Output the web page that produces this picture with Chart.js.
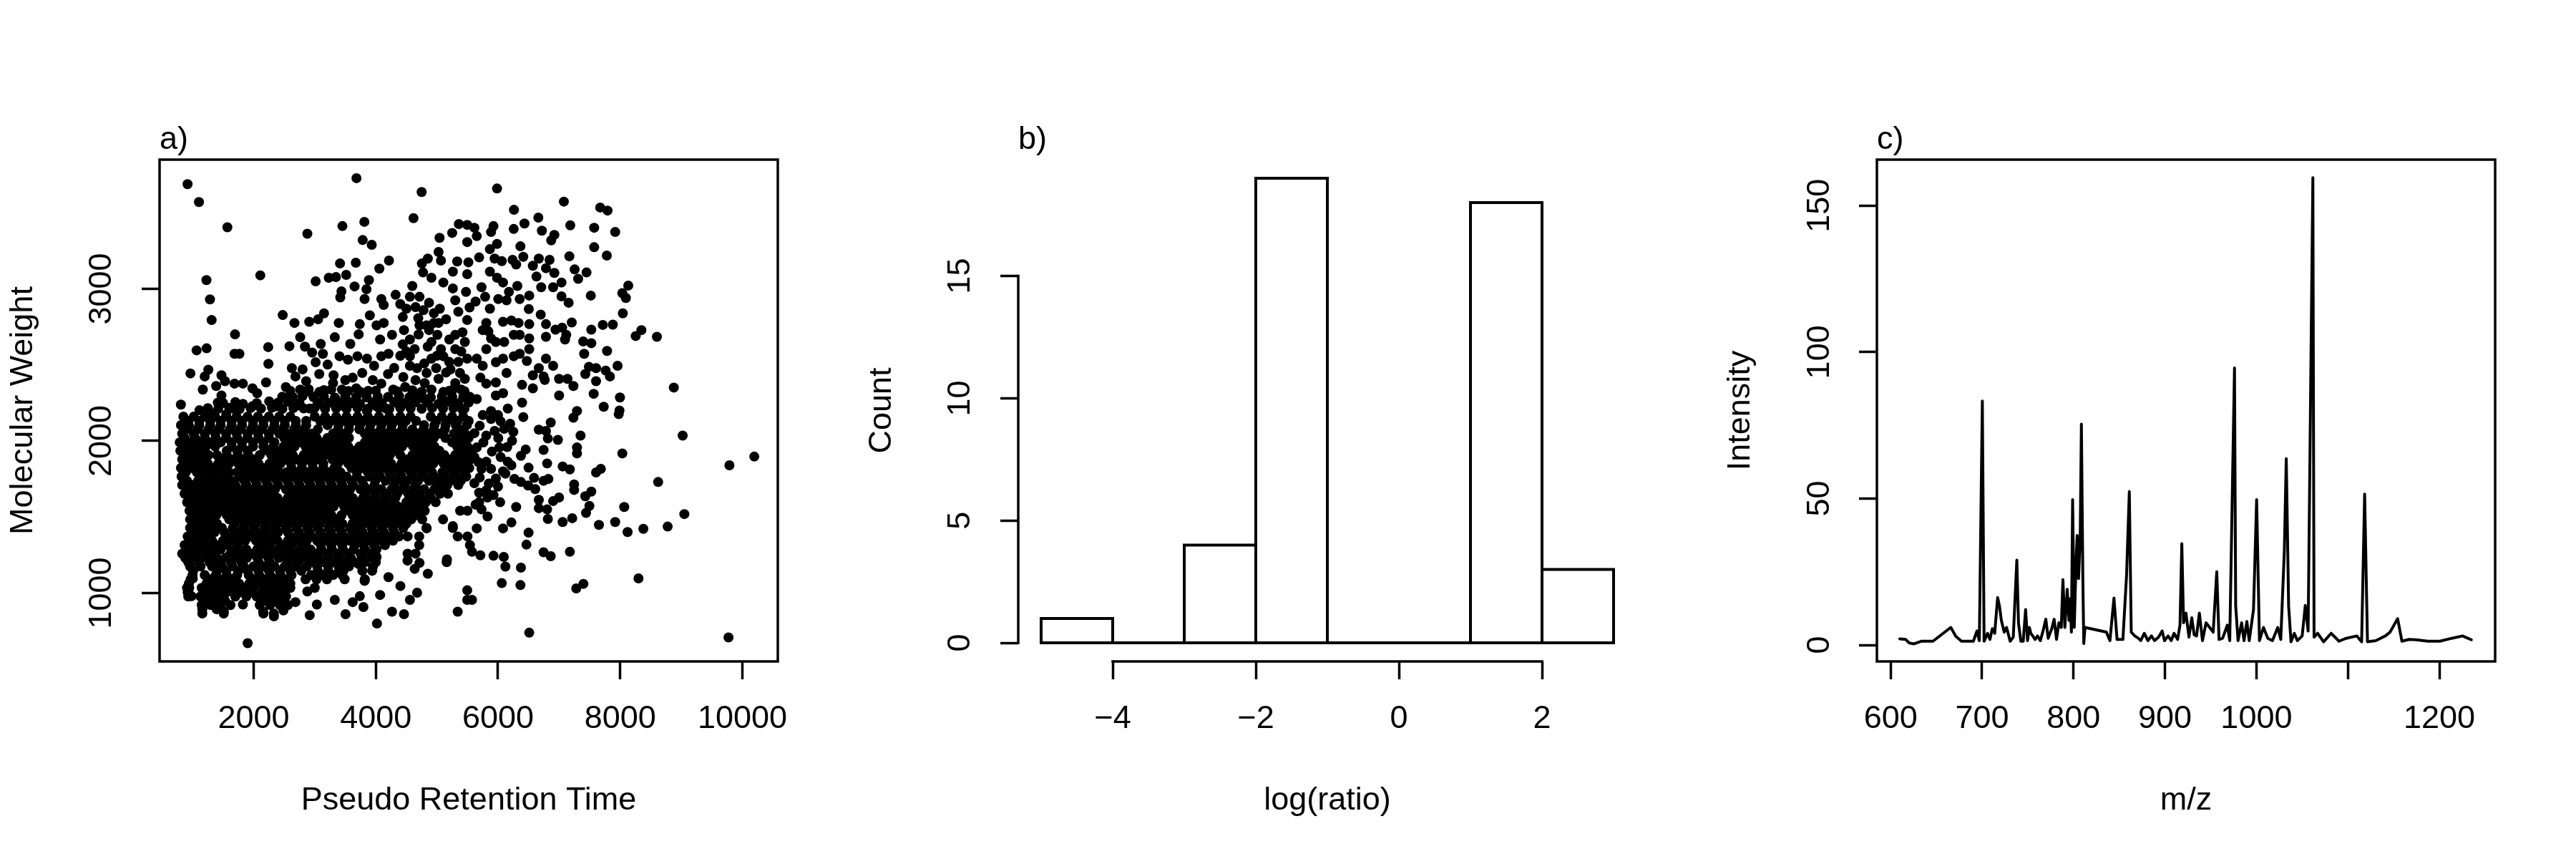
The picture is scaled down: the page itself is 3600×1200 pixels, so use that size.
<!DOCTYPE html>
<html lang="en">
<head>
<meta charset="UTF-8">
<title>Retention time, log ratio and spectrum</title>
<script src="https://cdn.jsdelivr.net/npm/chart.js"></script>
<style>
  body { margin: 0; padding: 0; background: #fff; width: 3600px; height: 1200px; overflow: hidden; }
  .painel { position: absolute; top: 0; width: 1200px; height: 1200px; }
  #pa { left: 0; } #pb { left: 1200px; } #pc { left: 2400px; }
</style>
</head>
<body>
<div class="painel" id="pa"><canvas id="grafico-a" width="1200" height="1200"></canvas></div>
<div class="painel" id="pb"><canvas id="grafico-b" width="1200" height="1200"></canvas></div>
<div class="painel" id="pc"><canvas id="grafico-c" width="1200" height="1200"></canvas></div>
<script>
// ---------- a) scatter: pseudo retention time vs molecular weight ----------
// individually read points [time, weight]
const ptsUpperLeft = [
  [918,3689],[1105,3571],[1570,3405],[3683,3728],[4750,3637],[4617,3465],[2879,3363],[3453,3413],[3812,3441],[3785,3321],
  [3933,3290],[5043,3336],[5250,3368],[5359,3426],[5496,3421],[5496,3308],[5027,3243],[5066,3186],[4851,3199],[4754,3167],
  [4773,3108],[5332,3180],[5261,3113],[5496,3097],[5515,3175],[2109,3089],[1227,3058],[1285,2931],[1312,2795],[1695,2701],
  [1066,2596],[1230,2609],[965,2444],[1258,2468],[1199,2424],[1168,2338],[1387,2361],[1473,2432],[1531,2393],[1687,2573],
  [1766,2573],[1687,2377],[1824,2377],[1980,2346],[2058,2314],[1473,2299],[1414,2252],[809,2239],[1113,2202],[2203,2385],
  [2242,2507],[2238,2617],[2476,2828],[2668,2776],[2910,2784],[3055,2800],[3152,2839],[3394,2776],[3414,3167],[3672,3172],
  [4058,3133],[4215,3186],[3015,3050],[3230,3073],[3347,3078],[3515,3092],[3652,3016],[3887,3058],[3847,2998],[3437,2984],
  [3418,2944],[3816,2933],[4090,2933],[4129,2894],[3902,2826],[4324,2961],[4597,3019],[4558,2948],[4715,2948],[4871,2909],
  [5047,2870],[4910,3073],[5105,3042],[5261,3003],[5300,2925],[5476,2980],[5535,2878],[4441,2815],[4695,2807],[5496,2795],
  [3738,2768],[3719,2701],[4012,2760],[4129,2776],[4070,2667],[4265,2698],[4461,2729],[2762,2682],[2840,2620],[2957,2581],
  [2586,2623],[3098,2638],[3133,2573],[3328,2682],[3406,2557],[3582,2638],[3543,2534],[3699,2557],[3855,2541],[3972,2494],
  [4090,2557],[4207,2573],[3015,2518],[3211,2502],[3074,2440],[3308,2432],[2625,2479],[2801,2471],[2684,2424],[2859,2393],
  [2527,2354],[2762,2338],[3074,2322],[3269,2338],[3445,2338],[3621,2416],[3777,2447],[3680,2346],[3875,2330],[4090,2377],
  [4285,2338],[4480,2354],[4500,2588],[4558,2667],[4558,2494],[4675,2479],[4832,2447],[4910,2651],[4910,2541],[4832,2760],
  [5027,2776],[5008,2698],[5066,2604],[5203,2667],[5300,2698],[5418,2714],[5398,2588],[5496,2541],[5222,2471],[5378,2447],
  [5457,2408],[5027,2408],[4910,2338],[5105,2322],[5261,2338],[5398,2338],[5535,2291],[4636,2307],[4793,2275],[4363,2244],
  [4558,2228],[5027,2244],[5261,2244],[5418,2205],[4012,2228],[4168,2213],[3738,2244],[3855,2197],[3543,2260],[3387,2228],
  [3152,2228],[2918,2213],[2684,2228],[2469,2291],[2371,2228],[2254,2260],[1980,2228],[1824,2244],[1668,2213],[1316,2181],
  [1551,2174],[4715,2760],[4871,2729],[4793,2510],[4988,2479],[4949,2776],[4558,2557],[5105,2557],[4441,2635],[4636,2604],
  [5300,2604],[5457,2651],[2640,2290],[2800,2295],[2980,2288],[3150,2292],[3330,2285],[3500,2295],[3680,2290],[3850,2286],
  [4030,2292],[4200,2290],[4380,2295],[4550,2288],[4730,2291],[4900,2286],[5080,2292],[5250,2290],[5430,2288],
  [4400,2900],[4500,2870],[4650,2880],[4780,2860],[4950,2840],[5150,2800],[5350,2850],[4400,2560],[4300,2480],[4450,2420],
  [4650,2400],[4800,2380],[4700,2700],[4850,2620],[5000,2560],[5200,2520],[5350,2520],[5150,2450],[5300,2380],[4200,2440],
  [3950,2400],[3500,2400],[3300,2380],[2900,2340],[2600,2300],
  [1250,2215],[1420,2212],[1600,2218],[1770,2210],[1950,2216],[2120,2213],[2300,2219],[2470,2211],[2650,2216],[2820,2214],
  [3000,2218],[3170,2212],[3350,2215],[3520,2211],[3700,2217],[3870,2213],[4050,2216],[4220,2210],[4400,2218],[4570,2214],
  [4750,2212],[4920,2217],[5100,2213],[5270,2216],[5450,2211],
  [1500,2250],[1700,2255],[2050,2248],[2400,2252],[2560,2258],[2750,2249],[3050,2254],[3250,2251],[3450,2256],[3600,2248],
  [3950,2253],[4100,2250],[4300,2257],[4450,2249],[4650,2254],[4850,2251],[5150,2256],[5350,2248],[5520,2253],
  [2600,2330],[2900,2325],[3150,2334],[3550,2328],[3750,2322],[4000,2331],[4350,2326],[4600,2333],[4750,2324],[5200,2330],[5450,2327]
];
const ptsUpperRight = [
  [5984,3660],[7078,3574],[7672,3535],[7793,3515],[6261,3520],[6660,3469],[6433,3430],[6257,3394],[5926,3413],[5886,3374],
  [6718,3383],[6922,3355],[6871,3319],[7183,3418],[7574,3402],[7918,3374],[7574,3274],[7781,3219],[7168,3214],[6367,3280],
  [5984,3296],[5867,3261],[5652,3347],[5613,3402],[5691,3207],[5945,3199],[6062,3183],[6238,3191],[6414,3211],[6297,3160],
  [6570,3152],[6668,3199],[6844,3191],[6785,3136],[6922,3105],[6629,3081],[6707,3011],[6902,3011],[7039,3042],[7254,3128],
  [7449,3108],[7312,3066],[5867,3113],[5984,3073],[6082,3042],[6316,3019],[6179,2980],[6355,2933],[6511,2956],[6004,2933],
  [6140,2925],[5730,3011],[5789,2948],[5633,2917],[5867,2870],[7039,2951],[7156,2909],[7519,2956],[8132,3022],[8035,2972],
  [8093,2940],[8043,2839],[6504,2867],[6699,2831],[7207,2779],[7050,2745],[6941,2732],[7117,2698],[7097,2667],[6785,2768],
  [6785,2685],[6511,2768],[6511,2674],[6355,2698],[6219,2792],[6336,2776],[6082,2784],[5808,2776],[5750,2729],[5843,2721],
  [5886,2674],[6101,2651],[6258,2698],[7527,2732],[7715,2763],[7879,2765],[8254,2690],[8347,2729],[8601,2685],[7394,2654],
  [7527,2643],[7410,2573],[7785,2592],[7957,2494],[7488,2487],[7605,2479],[7762,2463],[7832,2424],[7429,2440],[7605,2393],
  [8878,2351],[7137,2408],[7234,2361],[7000,2408],[7000,2299],[7566,2310],[7996,2286],[7730,2225],[7988,2200],[7293,2197],
  [6785,2541],[6902,2494],[6668,2479],[6746,2424],[6570,2432],[6765,2401],[6140,2447],[6394,2369],[6570,2346],[6394,2252],
  [6160,2213],[5965,2385],[6082,2314],[5965,2299],[5711,2416],[5808,2377],[5652,2275],[5886,2197],[6258,2557],[6355,2573],
  [6082,2541],[5965,2518],[5808,2604],[5652,2541],[5750,2494],[6472,2526],[6511,2604],[5965,2651]
];
const ptsLowerRight = [
  [5886,2145],[6043,2129],[6199,2113],[6414,2157],[6863,2121],[6668,2074],[6785,2066],[7234,2153],[7976,2176],[7351,2035],
  [7293,1957],[7293,1918],[8035,1918],[9023,2035],[9788,1840],[10195,1897],[8621,1730],[9050,1519],[8777,1437],[8379,1422],
  [8121,1401],[8066,1566],[7918,1467],[7652,1448],[7683,1816],[7605,1793],[7527,1667],[7429,1636],[7496,1573],[7441,1527],
  [7246,1714],[7246,1678],[7215,1492],[7058,1467],[7176,1271],[6999,1628],[6902,1605],[6668,1613],[6668,1558],[6804,1550],
  [6816,1487],[6746,1738],[6824,1750],[6590,1757],[6492,1707],[6609,1683],[6375,1730],[6269,1750],[6500,1824],[6804,1852],
  [7058,1832],[7176,1813],[6980,2007],[6816,2016],[6746,1941],[6453,1944],[6375,1902],[6230,2001],[6297,1566],[6035,1597],
  [5828,1628],[5691,1597],[5828,1503],[5652,1425],[6082,1425],[6219,1464],[6500,1397],[6465,1318],[6746,1268],[6863,1242],
  [5574,1271],[5711,1248],[5926,1245],[6094,1237],[6121,1174],[6375,1167],[6062,1065],[6367,1052],[7281,1030],[7398,1060],
  [8300,1096],[6511,739],[9773,708],[5574,955],[5613,2051],[5808,2035],[5945,2066],[6004,2019],[6023,1957],[5652,1957],
  [5613,1894],[5808,1863],[6043,1894],[6160,1863],[5730,1816],[5886,1816],[6082,1800],[6219,1840],[5613,1722],[5965,1753],
  [6121,1785],[5691,1660],[5808,1675],[5926,1644],[5730,1550],[5633,1581],
  [5700,2100],[5760,1990],[5900,1930],[5700,1760],[5850,1720],[6000,1700],[6150,1960],[6250,2060],[5680,1860],[6100,2080],
  [5750,2170],[6000,2170]
];
const ptsLowerLeft = [
  [1902,670],[4019,799],[5340,877],[4402,1046],[4265,877],[4461,861],[4676,1002],[4558,955],[5496,1018],[5496,955],
  [5164,1221],[5261,1440],[4832,1425],[4851,1127],[4715,1198],[4636,1159],[4519,1213],[4207,1104],[4070,987],[3797,908],
  [3816,1080],[3719,1190],[3953,1174],[4012,1237],[3504,861],[3328,955],[3621,940],[3738,979],[2918,854],[3035,924],
  [2879,1010],[2684,940],[2488,885],[2332,846],[2156,877],[1824,924],[1160,893],[984,979],[945,1034],[1004,1096],
  [1512,877],[1395,893]
];
// dense core, read row by row: weight of each row, then the times along it
const coreRowY = [2160,2104,2048,1991,1935,1879,1822,1766,1710,1653,1597,1541,1484,1428,1372,1315,1259,1203,1146,1090,1034,977,921,865];
const coreRowX = [
  [850,1020,1200,1370,1550,1720,1900,2070,2250,2420,2600,3000,3170,3350,3520,3700,3870,4050,4220,4400,4570,4900,5080,5250,5430],
  [810,940,1110,1290,1460,1640,1810,1990,2160,2340,2510,2690,2860,3210,3390,3560,3740,3910,4090,4260,4440,4790,4960,5140,5310,5490],
  [830,1020,1200,1370,1550,1720,1900,2070,2250,2420,2600,2780,2950,3300,3470,3820,3990,4170,4340,4520,4690,4870,5040,5280,5460],
  [790,960,1110,1290,1460,1640,1810,1990,2160,2340,2600,2770,2950,3120,3300,3470,3820,3990,4170,4340,4520,4690,4870,5250,5430],
  [800,970,1150,1560,1730,1900,2230,2400,2580,2940,3110,3290,3460,3640,3810,3990,4160,4340,4700,4870,5040,5400,5560],
  [830,1000,1180,1480,1650,1830,2000,2350,2520,2700,2870,3050,3290,3460,3640,3810,3990,4160,4500,4680,4850,5030,5200,5380,5550],
  [810,980,1160,1330,1520,1800,1980,2150,2330,2620,2790,2970,3140,3320,3600,3780,3950,4130,4300,4480,4650,4830,5180,5350,5530],
  [820,1200,1370,1550,1770,1940,2120,2290,2470,2640,2820,2990,3170,3340,3520,3690,3900,4070,4250,4420,4600,4780,4950,5130,5300,5480],
  [830,1000,1180,1350,1530,1700,1880,2050,2230,2400,2580,2750,2930,3100,3280,3450,3630,3800,3980,4300,4470,4650,5000,5170,5350],
  [870,1040,1220,1390,1570,1740,1920,2090,2270,2620,2800,2970,3150,3320,3500,3830,4000,4180,4350,4530,4700,4880,5050,5180],
  [910,1080,1260,1430,1610,1780,1960,2130,2310,2480,2660,2830,3010,3180,3360,3530,3710,3880,4060,4230,4500,4650,4820,4980],
  [950,1120,1300,1470,1650,1820,2000,2170,2350,2520,2700,2870,3050,3220,3570,3750,3920,4100,4270,4450,4620,4800,5380,5500],
  [960,1130,1310,1600,1780,1950,2130,2300,2480,2650,2830,3000,3180,3350,3700,3880,4050,4230,4400,4580,4760,5100],
  [960,1130,1310,1480,1660,1830,2000,2180,2350,2530,2700,2880,3050,3230,3400,3580,3750,3930,4100,4280,4450,4830,5260],
  [920,1090,1270,1600,1780,1950,2130,2300,2600,2780,2950,3130,3300,3480,3700,3850,4030,4200,4380,4520,4710,5340,5500],
  [870,1040,1220,1390,1570,1740,2100,2270,2450,2620,2800,3100,3270,3450,3650,3800,3970,4150,4710,5540],
  [830,1000,1180,1350,1620,1800,1970,2150,2320,2500,2670,2850,3020,3200,3370,3550,3750,3900,4520,4650],
  [930,1100,1280,1450,1630,1800,2080,2260,2550,2730,2950,3120,3300,3470,3640,3820,4000,5160],
  [1010,1400,1550,1750,1900,2080,2250,2430,2600,2780,3050,3220,3400,3470,3780,3940],
  [970,1300,1480,1650,2000,2180,2350,2520,2850,3030,3200,3490,3820],
  [910,1150,1320,1500,1670,1850,2000,2200,2370,2540,2600,3000],
  [930,1130,1300,1450,1700,1880,2050,2230,2400,2530],
  [1150,1300,1460,1620,2100,2270,2430,2560],
  [1160,1510,2160,2330]
];
// rows read between the ones above, where the core is solid black
const midRowY = [2132,2076,2020,1963,1907,1851,1794,1738,1682,1625,1569,1513,1456,1400,1344,1287,1231,1175,1118,1062,1005,949];
const midRowX = [
  [930,1110,1290,1460,1640,1810,1990,2160,2340,2510,2690,2860,3090,3260,3440,3610,3790,3960,4140,4310,4490,4660,4990,5170,5340,5520],
  [900,1080,1260,1430,1610,1780,1960,2130,2310,2480,2660,2830,3050,3380,3560,3730,3900,4080,4250,4430,4600,4780,4950,5130,5370],
  [870,1040,1200,1380,1550,1730,1900,2080,2250,2500,2680,2860,3030,3210,3390,3560,3900,4080,4250,4430,4600,4780,4950,5140,5340,5520],
  [880,1040,1220,1370,1640,1810,1990,2160,2320,2490,2670,2850,3030,3200,3380,3550,3730,3900,4080,4250,4430,4610,4780,4960,5330,5500],
  [910,1080,1260,1400,1560,1740,1910,2100,2290,2470,2640,2820,2990,3170,3350,3520,3700,3880,4050,4230,4400,4600,4780,4950,5120,5300,5480],
  [900,1070,1250,1420,1600,1750,1900,2080,2260,2440,2610,2790,2960,3140,3380,3550,3720,3900,4070,4250,4420,4590,4760,4940,5110,5290,5460],
  [890,1070,1250,1420,1600,1730,1890,2070,2240,2420,2540,2710,2880,3060,3230,3420,3690,3870,4040,4220,4390,4570,4740,4920,5090,5270,5440],
  [910,1090,1290,1460,1640,1850,2030,2200,2380,2550,2730,2900,3080,3250,3430,3600,3780,3990,4160,4340,4510,4690,4870,5040,5220,5390],
  [950,1120,1300,1480,1650,1830,2000,2180,2350,2530,2710,2880,3060,3230,3410,3580,3750,3910,4090,4260,4440,4610,4790,4960,5110],
  [990,1160,1340,1510,1690,1860,2040,2210,2390,2560,2740,2910,3090,3260,3440,3620,3790,3970,4140,4320,4580,4740,4900],
  [1030,1210,1380,1560,1730,1910,2080,2260,2430,2610,2780,2960,3130,3310,3480,3660,3830,4010,4180,4360,4540,4710],
  [1040,1220,1390,1560,1690,1870,2040,2220,2390,2570,2740,2920,3090,3270,3440,3620,3790,3970,4140,4320,4490,4670],
  [1040,1220,1400,1690,1870,2040,2220,2390,2570,2740,2920,3090,3270,3450,3620,3800,3970,4150,4320,4500],
  [1010,1180,1360,1520,1700,1870,2050,2220,2400,2560,2740,2910,3090,3260,3440,3620,3780,3960,4130,4300],
  [960,1140,1320,1500,1690,1860,2040,2210,2390,2560,2690,2870,3040,3220,3390,3570,3760,3920,4100,4280],
  [920,1100,1280,1460,1700,1880,2060,2230,2410,2580,2760,2930,3110,3280,3460,3640,3820,4010],
  [880,1050,1230,1400,1540,1710,1890,2060,2240,2410,2620,2790,2900,3060,3230,3410,3590,3770,3950],
  [960,1130,1320,1480,1650,1840,2000,2170,2340,2510,2690,2870,3040,3220,3390,3560],
  [1000,1200,1380,1560,1730,1920,2090,2270,2440,2620,2940,3120,3300,3450],
  [940,1230,1400,1580,1760,1930,2100,2280,2450,2600],
  [920,1220,1380,1560,1780,1960,2140,2310,2480],
  [1210,1380,1530,2180,2350,2500]
];
const rtTicks = [2000, 4000, 6000, 8000, 10000];
const mwTicks = [1000, 2000, 3000];
const rtRange = [460, 10580];
const mwRange = [550, 3850];

// ---------- b) histogram of log(ratio) ----------
const ratioBreaks = [-5, -4, -3, -2, -1, 0, 1, 2, 3];
const ratioCounts = [1, 0, 4, 19, 0, 0, 18, 3];
const ratioTicks = [-4, -2, 0, 2];
const countTicks = [0, 5, 10, 15];
const ratioRange = [-5.32, 3.32];
const countRange = [-0.76, 19.76];

// ---------- c) spectrum ----------
const mzValues = [
  610,616.5,620.4,625.6,633.4,646.3,665.8,671,677.5,690.5,694.4,697,700.3,702.2,706,708.6,711.2,713.8,717,719,
  721.1,724.2,726.8,730.7,734.1,738,739.8,742.4,745,747.6,749.7,751.7,753.3,755.4,758,760.6,763.7,767,769.7,772.3,
  776.2,778.8,781.4,784,786.6,788.4,790.5,793.1,795.1,796.2,797.7,799,800.8,802.9,804,805.5,807.3,808.6,810.2,811.2,
  812.5,835.9,839.8,844.2,847.6,854,858,861,863.1,867,870.9,873.5,877.4,881.3,885.2,888.6,893,896.9,899.5,903.4,
  906.8,909.9,913.8,916.4,918.4,920.3,922.9,926.2,929.3,931.9,934.5,937.6,941,944.9,948.8,952.7,956.6,959.1,963,968.2,
  970.8,976,977.3,979.9,983.8,986.4,989.5,992.1,996.8,1000.2,1003.3,1007.7,1012.4,1017.5,1023.3,1026.6,1030.5,1032.6,1035.2,1037.8,
  1041.4,1044.8,1050,1053.4,1056.5,1061.7,1063,1066.9,1073.4,1081.7,1090.3,1098.1,1109.8,1115,1118.3,1121.4,1130.5,1140.9,1146.1,1154.4,
  1159.1,1166.9,1174.7,1187.6,1200.6,1213.6,1225.3,1235
];
const intensity = [
  2.1,1.9,0.7,0.4,1.3,1.3,6.0,3.1,1.3,1.3,4.8,1.5,83.3,1.3,4.0,1.9,5.6,4.0,16.2,13.3,
  8.4,4.4,6.0,1.3,2.7,29.0,7.6,1.3,1.3,12.1,1.5,6.0,4.0,3.1,1.9,3.1,1.5,5.2,8.8,2.3,
  5.6,8.8,1.9,7.6,6.0,22.3,6.0,19.0,8.4,15.8,4.4,49.6,6.0,29.6,37.4,22.7,37.0,75.4,22.3,0.5,
  6.0,4.4,1.5,16.0,1.9,1.9,23.9,52.4,4.4,3.1,2.3,1.5,4.0,1.5,3.1,1.5,2.7,4.8,1.5,3.1,
  1.5,4.0,1.9,6.8,34.6,7.6,10.9,2.7,9.3,3.5,3.1,10.9,1.5,7.6,6.0,4.4,25.0,1.9,2.3,6.8,
  1.5,94.6,13.3,1.5,7.6,1.5,8.0,1.5,12.1,49.6,1.5,6.0,2.3,1.5,6.0,1.9,32.1,63.6,13.3,1.1,
  4.0,1.5,3.1,13.5,4.8,159.5,2.7,4.0,1.1,4.0,1.3,2.3,3.1,1.1,51.5,1.1,1.5,3.1,4.4,9.0,
  1.3,1.9,1.8,1.3,1.3,2.3,3.1,1.8
];
const mzTicks = [600, 700, 800, 900, 1000, 1100, 1200];
const mzLabels = ['600', '700', '800', '900', '1000', '', '1200'];   // R dropped the 1100 label
const intTicks = [0, 50, 100, 150];
const mzRange = [585, 1261];
const intRange = [-5.6, 165.7];

// ---------- common look ----------
const FONTE = "'Liberation Sans', Arial, Helvetica, sans-serif";
Chart.defaults.font.family = FONTE;
Chart.defaults.font.size = 45;
Chart.defaults.color = '#000';

const LW = 3.5;

// box round the plot (a, c) or R-style axis lines spanning the ticks only (b)
const molduraPlugin = {
  id: 'moldura',
  afterDraw(chart, args, opts) {
    const {ctx, chartArea: a, scales} = chart;
    ctx.save();
    ctx.strokeStyle = '#000';
    ctx.lineWidth = LW;
    if (opts.modo === 'caixa') {
      ctx.strokeRect(a.left, a.top, a.right - a.left, a.bottom - a.top);
    } else {
      const xt = scales.x.ticks, yt = scales.y.ticks;
      ctx.lineCap = 'square';
      ctx.beginPath();
      ctx.moveTo(scales.x.getPixelForValue(xt[0].value), a.bottom);
      ctx.lineTo(scales.x.getPixelForValue(xt[xt.length - 1].value), a.bottom);
      ctx.moveTo(a.left, scales.y.getPixelForValue(yt[0].value));
      ctx.lineTo(a.left, scales.y.getPixelForValue(yt[yt.length - 1].value));
      ctx.stroke();
    }
    ctx.restore();
  }
};

const fmt = v => String(v).replace('-', '\u2212');

function eixoX(range, ticks, titulo, labels) {
  return {
    type: 'linear', min: range[0], max: range[1],
    afterBuildTicks: s => { s.ticks = ticks.map(v => ({ value: v })); },
    afterFit: s => { s.height = 276; },
    border: { display: false },
    grid: { drawOnChartArea: false, drawTicks: true, tickLength: 25, tickWidth: LW, tickColor: '#000' },
    ticks: {
      padding: 29, maxRotation: 0, minRotation: 0, autoSkip: false,
      callback: (v, i) => labels ? labels[i] : fmt(v)
    },
    title: { display: true, text: titulo, padding: { top: 0, bottom: 54 } }
  };
}

function eixoY(range, ticks, titulo, pad) {
  return {
    type: 'linear', min: range[0], max: range[1],
    afterBuildTicks: s => { s.ticks = ticks.map(v => ({ value: v })); },
    afterFit: s => { s.width = 223; },
    border: { display: false },
    grid: { drawOnChartArea: false, drawTicks: true, tickLength: 25, tickWidth: LW, tickColor: '#000' },
    ticks: { padding: pad, minRotation: 90, maxRotation: 90, crossAlign: 'center', autoSkip: false, callback: v => fmt(v) },
    title: { display: true, text: titulo, padding: { top: 6, bottom: 0 } }
  };
}

function opcoesBase(letra, modo, xAxis, yAxis) {
  return {
    responsive: false,
    animation: false,
    devicePixelRatio: 1,
    events: [],
    layout: { padding: { top: 169, right: 113, left: 0, bottom: 0 } },
    scales: { x: xAxis, y: yAxis },
    plugins: {
      legend: { display: false },
      tooltip: { enabled: false },
      title: { display: true, text: letra, align: 'start', fullSize: false, padding: 0, font: { size: 45, weight: 'normal' } },
      moldura: { modo: modo }
    }
  };
}

// a) build the point list from the read arrays
const pontosA = [];
[ptsUpperLeft, ptsUpperRight, ptsLowerRight, ptsLowerLeft].forEach(lista => {
  lista.forEach(p => pontosA.push({ x: p[0], y: p[1] }));
});
coreRowY.forEach((y, i) => {
  coreRowX[i].forEach(x => pontosA.push({ x: x, y: y }));
});
midRowY.forEach((y, i) => {
  midRowX[i].forEach(x => pontosA.push({ x: x, y: y }));
});

new Chart(document.getElementById('grafico-a'), {
  type: 'scatter',
  data: { datasets: [{
    data: pontosA,
    pointRadius: 7, pointBorderWidth: 0,
    pointBackgroundColor: '#000', pointBorderColor: '#000'
  }] },
  options: opcoesBase('a)', 'caixa',
    eixoX(rtRange, rtTicks, 'Pseudo Retention Time'),
    eixoY(mwRange, mwTicks, 'Molecular Weight', 5)),
  plugins: [molduraPlugin]
});

// b) one closed outline per bin
const barrasB = ratioCounts.map((c, i) => ({
  data: [
    { x: ratioBreaks[i], y: 0 }, { x: ratioBreaks[i], y: c },
    { x: ratioBreaks[i + 1], y: c }, { x: ratioBreaks[i + 1], y: 0 },
    { x: ratioBreaks[i], y: 0 }
  ],
  showLine: true, pointRadius: 0, borderColor: '#000', borderWidth: 4,
  borderJoinStyle: 'miter', borderCapStyle: 'square', fill: false
}));

new Chart(document.getElementById('grafico-b'), {
  type: 'scatter',
  data: { datasets: barrasB },
  options: opcoesBase('b)', 'eixos',
    eixoX(ratioRange, ratioTicks, 'log(ratio)'),
    eixoY(countRange, countTicks, 'Count', 30)),
  plugins: [molduraPlugin]
});

// c) spectrum line
new Chart(document.getElementById('grafico-c'), {
  type: 'scatter',
  data: { datasets: [{
    data: mzValues.map((m, i) => ({ x: m, y: intensity[i] })),
    showLine: true, pointRadius: 0, borderColor: '#000', borderWidth: 4,
    borderJoinStyle: 'round', borderCapStyle: 'round', fill: false
  }] },
  options: opcoesBase('c)', 'caixa',
    eixoX(mzRange, mzTicks, 'm/z', mzLabels),
    eixoY(intRange, intTicks, 'Intensity', 17)),
  plugins: [molduraPlugin]
});
</script>
</body>
</html>
